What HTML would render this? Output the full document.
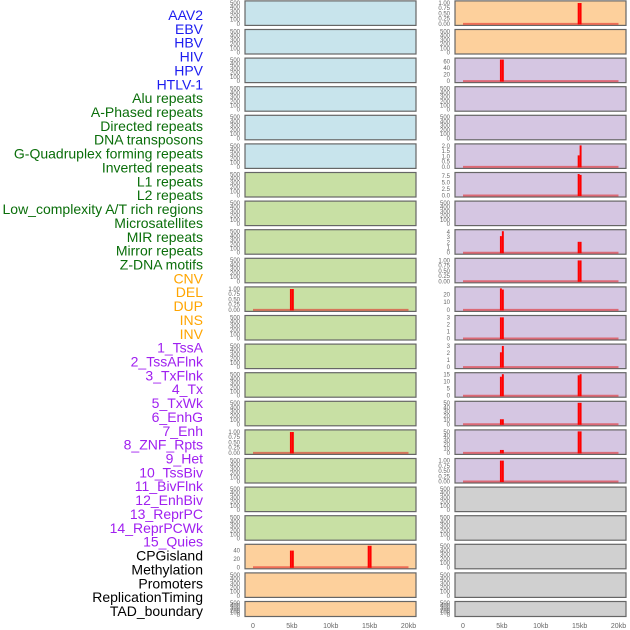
<!DOCTYPE html>
<html><head><meta charset="utf-8"><style>
html,body{margin:0;padding:0;background:#fff;width:630px;height:630px;overflow:hidden}
svg{display:block;font-family:"Liberation Sans",sans-serif}
</style></head><body>
<svg id="chart" width="630" height="630"></svg>
<script>
const trackNames=["AAV2","EBV","HBV","HIV","HPV","HTLV-1","Alu repeats","A-Phased repeats","Directed repeats","DNA transposons","G-Quadruplex forming repeats","Inverted repeats","L1 repeats","L2 repeats","Low_complexity A/T rich regions","Microsatellites","MIR repeats","Mirror repeats","Z-DNA motifs","CNV","DEL","DUP","INS","INV","1_TssA","2_TssAFlnk","3_TxFlnk","4_Tx","5_TxWk","6_EnhG","7_Enh","8_ZNF_Rpts","9_Het","10_TssBiv","11_BivFlnk","12_EnhBiv","13_ReprPC","14_ReprPCWk","15_Quies","CPGisland","Methylation","Promoters","ReplicationTiming","TAD_boundary"];
const labelGroups=["virus","virus","virus","virus","virus","virus","repeat","repeat","repeat","repeat","repeat","repeat","repeat","repeat","repeat","repeat","repeat","repeat","repeat","sv","sv","sv","sv","sv","chrom","chrom","chrom","chrom","chrom","chrom","chrom","chrom","chrom","chrom","chrom","chrom","chrom","chrom","chrom","other","other","other","other","other"];
const panelGroups=["virus","virus","virus","virus","virus","virus","repeat","repeat","repeat","repeat","repeat","repeat","repeat","repeat","repeat","repeat","repeat","repeat","repeat","sv","sv","sv","sv","sv","chrom","chrom","chrom","chrom","chrom","chrom","chrom","chrom","chrom","chrom","chrom","chrom","chrom","chrom","chrom","other","other","other","other","other"];
const yMax=[510,510,510,510,510,510,510,510,510,510,1.03,510,510,510,510,1.03,510,510,510,51.5,510,510,1.03,510,66,510,510,2.05,8.35,510,4.15,1.03,27.5,3.05,3.05,15.3,51,51,1.03,510,510,510,510,510];
const tickSets={empty:[0,100,200,300,400,500],unit:[0,0.25,0.5,0.75,1],tssa:[0,20,40,60],tx:[0,0.5,1,1.5,2],txwk:[0,2.5,5,7.5],enh:[0,1,2,3,4],het:[0,10,20],three:[0,1,2,3],enhbiv:[0,5,10,15],fifty:[0,10,20,30,40,50],cnv:[0,20,40]};
const tickKind=["empty","empty","empty","empty","empty","empty","empty","empty","empty","empty","unit","empty","empty","empty","empty","unit","empty","empty","empty","cnv","empty","empty","unit","empty","tssa","empty","empty","tx","txwk","empty","enh","unit","het","three","three","enhbiv","fifty","fifty","unit","empty","empty","empty","empty","empty"];
const tickDecimals={unit:2,tx:1,txwk:1};
// bins: start position (bp), 250bp wide
const binStarts=[[],[],[],[],[],[],[],[],[],[],[4750,5000],[],[],[],[],[4750,5000],[],[],[],[4750,5000,14750,15000],[],[],[14750,15000],[],[4750,5000],[],[],[14750,15000],[14750,15000],[],[4750,5000,14750,15000],[14750,15000],[4750,5000],[4750,5000],[4750,5000],[4750,5000,14750,15000],[4750,5000,14750,15000],[4750,5000,14750,15000],[4750,5000],[],[],[],[],[]];
const binValues=[[],[],[],[],[],[],[],[],[],[],[1,1],[],[],[],[],[1,1],[],[],[],[40,40,52,52],[],[],[1,1],[],[66,66],[],[],[1.1,2.05],[8.35,8.0],[],[3.2,4.15,2.1,2.1],[1,1],[28,26],[3,3],[2.1,3],[13.5,15.3,14.5,15.3],[12,12,51,51],[7,7,51,51],[1,1],[],[],[],[],[]];
const xTicks=[0,5000,10000,15000,20000];
const xTickLabels=["0","5kb","10kb","15kb","20kb"];

const fills={virus:"#c8e4ec",repeat:"#c8e0a4",sv:"#fdd09c",chrom:"#d5c6e2",other:"#d0d0d0"};
const labelColors={virus:"#1c1cf0",repeat:"#0a6e0a",sv:"#ffa500",chrom:"#a020f0",other:"#000"};
const NS="http://www.w3.org/2000/svg";
const svg=document.getElementById('chart');
function mk(tag,attrs,parent){const e=document.createElementNS(NS,tag);for(const k in attrs)e.setAttribute(k,attrs[k]);(parent||svg).appendChild(e);return e;}
const colX=[{left:245,right:416,x0:253,x1:408.5,tickX:240},{left:455,right:626,x0:463,x1:618.5,tickX:450}];
function xScale(c,v){return colX[c].x0+(colX[c].x1-colX[c].x0)*v/20000;}
// labels
trackNames.forEach((n,i)=>{
  const t=mk('text',{x:203,y:20+i*13.86,'text-anchor':'end','font-size':14,fill:labelColors[labelGroups[i]]});
  t.textContent=n;
  
  
});
for(let p=0;p<44;p++){
  const c=p<22?0:1,r=p%22;
  const top=0.9+r*28.6,h=r===21?15:24.5,bot=top+h;
  const g=mk('g',{});
  
  
  const rect=mk('rect',{x:colX[c].left,y:top,width:colX[c].right-colX[c].left,height:h,fill:fills[panelGroups[p]],stroke:"#666",'stroke-width':1.2},g);
  
  
  const ym=yMax[p];
  const yS=v=>bot-1.5-(h-3)*Math.min(v,ym)/ym;
  const ks=tickSets[tickKind[p]],dec=tickDecimals[tickKind[p]]||0;
  ks.forEach(v=>{
    const t=mk('text',{x:colX[c].tickX,y:yS(v)+2,'text-anchor':'end','font-size':6,fill:"#666"},g);
    t.textContent=v.toFixed(dec);
    
    
  });
  if(binStarts[p].length){
    const bl=mk('line',{x1:xScale(c,0),x2:xScale(c,20000),y1:yS(0),y2:yS(0),stroke:"rgba(225,30,30,0.55)",'stroke-width':2},g);
    
    
    binStarts[p].forEach((s,k)=>{
      const x=xScale(c,s),w=xScale(c,s+250)-x;
      const b=mk('rect',{x:x,y:yS(binValues[p][k]),width:w,height:yS(0)-yS(binValues[p][k])+0.5,fill:"#ff0000"},g);
      
      
    });
  }
}
[0,1].forEach(c=>{
  xTicks.forEach((v,i)=>{
    const t=mk('text',{x:xScale(c,v),y:628,'text-anchor':'middle','font-size':7,fill:"#666"});
    t.textContent=xTickLabels[i];
    
    
  });
});
</script>
</body></html>
